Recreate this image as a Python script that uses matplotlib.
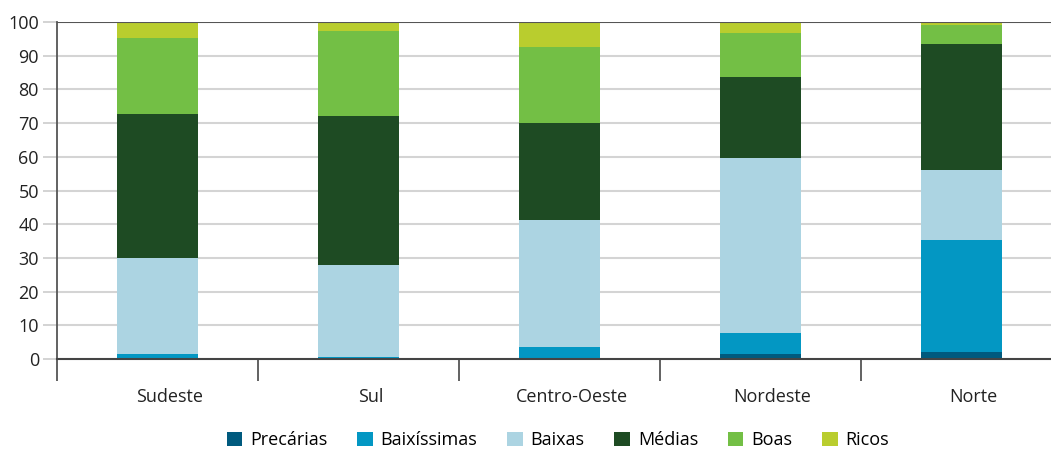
import matplotlib
matplotlib.use("Agg")
import matplotlib.pyplot as plt
import matplotlib.transforms as mtransforms
import numpy as np

plt.rcParams['font.family'] = ['Open Sans', 'DejaVu Sans']

regions = ["Sudeste", "Sul", "Centro-Oeste", "Nordeste", "Norte"]
series_names = ["Precárias", "Baixíssimas", "Baixas", "Médias", "Boas", "Ricos"]
precarias   = [0.1, 0.1, 0.0, 1.4, 2.0]
baixissimas = [1.4, 0.6, 3.5, 6.2, 33.4]
baixas      = [28.5, 27.2, 37.8, 52.0, 20.7]
medias      = [42.8, 44.2, 28.6, 24.2, 37.5]
boas        = [22.6, 25.2, 22.8, 13.0, 5.6]
ricos       = [4.6, 2.7, 7.3, 3.2, 0.8]
yticks = [0, 10, 20, 30, 40, 50, 60, 70, 80, 90, 100]

colors = ["#005a7e", "#0397c3", "#acd4e2", "#1e4b23", "#73bf45", "#b9cd2e"]
data = [precarias, baixissimas, baixas, medias, boas, ricos]

fig = plt.figure(figsize=(10.51, 4.49), dpi=100)
ax = fig.add_axes([57/1051, 1-359/449, (1051-57)/1051, (359-22)/449])

x = np.arange(len(regions))
bottom = np.zeros(len(regions))
handles = []
for name, vals, c in zip(series_names, data, colors):
    vals = np.array(vals)
    b = ax.bar(x, vals, width=0.4, bottom=bottom, color=c, label=name, zorder=3,
               linewidth=0)
    handles.append(b)
    bottom += vals

ax.set_yticks(yticks)
ax.set_yticklabels([str(v) for v in yticks], fontsize=13, color="#222222")
ax.tick_params(axis='y', length=10, color="#cccccc", width=1.2, pad=3)
for v in yticks[1:-1]:
    ax.axhline(v, color="#d4d4d4", lw=1.5, zorder=1)
ax.axhline(100, color="#555555", lw=1.5, zorder=4)

ax.set_xticks(np.arange(-0.5, 5.0, 1.0))
ax.set_xticklabels([])
ax.tick_params(axis='x', which='major', length=16, width=1.3, color="#555555")
ax.set_xticks(x, minor=True)
ax.set_xticklabels(regions, minor=True, fontsize=13, color="#222222")
ax.tick_params(axis='x', which='minor', length=0, pad=21)
offset = mtransforms.ScaledTranslation(12/100, 0, fig.dpi_scale_trans)
for lbl in ax.get_xticklabels(minor=True):
    lbl.set_transform(lbl.get_transform() + offset)

ax.set_ylim(0, 100)
ax.set_xlim(-0.5, -0.5 + (1051-57)/201)

for s in ['top', 'right']:
    ax.spines[s].set_visible(False)
ax.spines['left'].set_color("#555555")
ax.spines['left'].set_linewidth(1.3)
ax.spines['bottom'].set_color("#444444")
ax.spines['bottom'].set_linewidth(1.5)
ax.spines['bottom'].set_zorder(5)

fig.legend(handles=handles, labels=series_names, loc='center', bbox_to_anchor=(558/1051, 1-440/449),
           ncol=6, frameon=False, fontsize=13, handlelength=0.85, handleheight=0.85,
           columnspacing=1.65, handletextpad=0.45)

fig.savefig("out.png", dpi=100)
